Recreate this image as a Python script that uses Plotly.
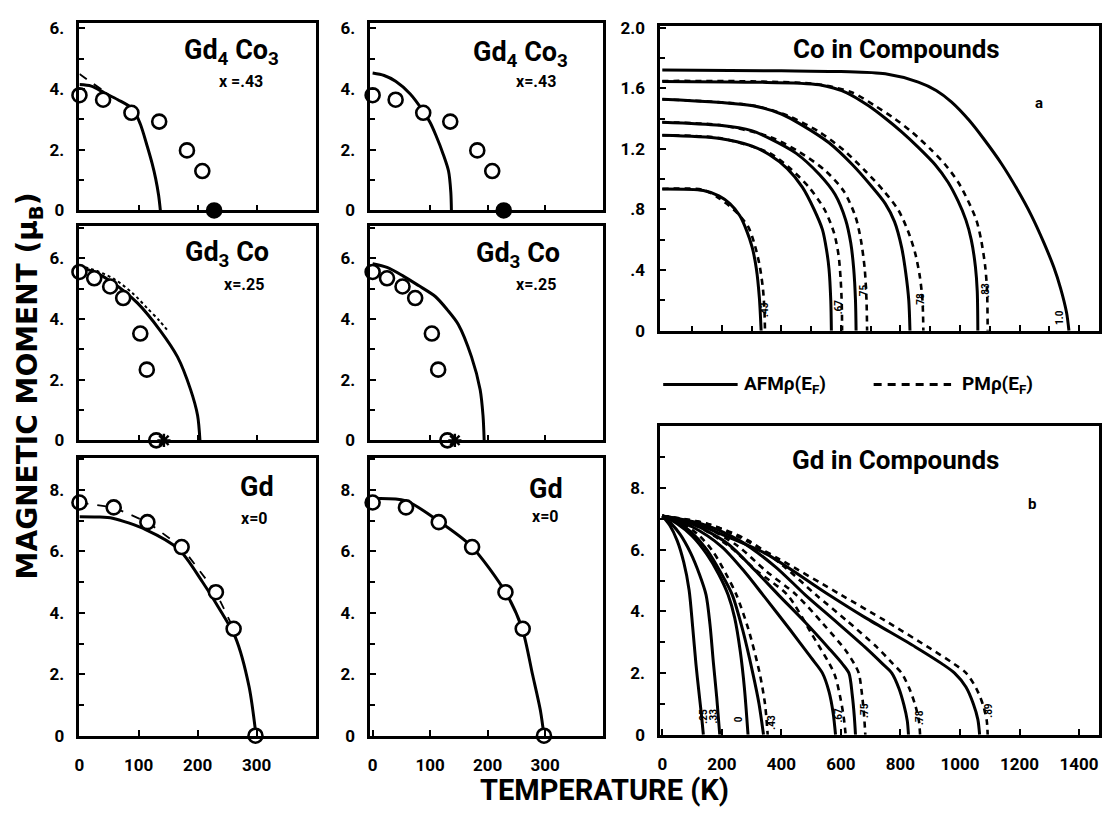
import plotly.graph_objects as go

W, H = 1102, 823

# ---------------- Gd4Co3 (x = .43) ----------------
gd4co3_exp_T = [0, 40, 88, 135, 182, 208]
gd4co3_exp_M = [3.8, 3.65, 3.22, 2.93, 1.98, 1.3]
gd4co3_tc_T = [228]
gd4co3_tc_M = [0]
gd4co3_fit1_T = [0, 20, 42, 65, 90, 103, 115, 123, 129, 134, 137]
gd4co3_fit1_M = [4.15, 4.1, 3.88, 3.65, 3.35, 2.85, 2.1, 1.55, 1.05, 0.5, 0]
gd4co3_fit1_alt_T = [0, 20, 40]
gd4co3_fit1_alt_M = [4.5, 4.22, 3.95]
gd4co3_fit2_T = [0, 20, 40, 65, 87, 100, 110, 123, 132, 136, 137]
gd4co3_fit2_M = [4.53, 4.45, 4.26, 3.85, 3.3, 2.9, 2.48, 1.84, 1.3, 0.6, 0]

# ---------------- Gd3Co (x = .25) ----------------
gd3co_exp_T = [0, 25, 52, 74, 103, 114, 130]
gd3co_exp_M = [5.55, 5.34, 5.07, 4.69, 3.52, 2.33, 0]
gd3co_tc_T = [143]
gd3co_tc_M = [0]
gd3co_fit1_T = [0, 25, 54, 98, 137, 166, 188, 200, 204]
gd3co_fit1_M = [5.71, 5.55, 5.23, 4.53, 3.61, 2.75, 1.68, 0.82, 0]
gd3co_fit1_alt_T = [0, 30, 60, 90, 115, 135, 150]
gd3co_fit1_alt_M = [5.76, 5.58, 5.3, 4.85, 4.35, 3.95, 3.6]
gd3co_fit2_T = [0, 25, 52, 80, 109, 130, 149, 172, 187, 192, 194]
gd3co_fit2_M = [5.82, 5.7, 5.43, 5.1, 4.74, 4.3, 3.82, 2.75, 1.67, 0.81, 0]

# ---------------- Gd (x = 0) ----------------
gd_exp_T = [0, 58, 115, 173, 231, 261, 298]
gd_exp_M = [7.59, 7.43, 6.95, 6.14, 4.67, 3.48, 0]
gd_fit1_T = [0, 30, 56, 112, 168, 208, 236, 264, 287, 299]
gd_fit1_M = [7.13, 7.12, 7.08, 6.71, 6.07, 5.01, 4.16, 3.2, 1.61, 0]
gd_fit2_T = [0, 57, 115, 172, 231, 260, 278, 292, 298]
gd_fit2_M = [7.72, 7.65, 6.98, 6.16, 4.67, 3.49, 2.0, 0.8, 0]

# ---------------- Co in compounds (AFM / PM density of states) ----------------
co_afm_T = [
    [0, 400, 600, 749, 860, 920, 971, 1030, 1082, 1140, 1193, 1240, 1282,
     1315, 1338, 1358, 1366],
    [0, 300, 527, 620, 693, 750, 804, 860, 916, 960, 993, 1020, 1038, 1052,
     1058, 1060],
    [0, 304, 400, 471, 560, 638, 700, 749, 780, 804, 818, 828, 832],
    [0, 193, 300, 360, 450, 527, 580, 616, 633, 643, 649, 651],
    [0, 193, 300, 360, 420, 471, 510, 538, 552, 560, 566, 568],
    [0, 138, 190, 227, 260, 282, 302, 316, 326, 332],
]
co_afm_M = [
    [1.72, 1.715, 1.71, 1.695, 1.64, 1.585, 1.51, 1.39, 1.26, 1.1, 0.93,
     0.76, 0.58, 0.42, 0.28, 0.12, 0],
    [1.645, 1.64, 1.623, 1.57, 1.484, 1.4, 1.312, 1.21, 1.097, 0.98, 0.858,
     0.73, 0.6, 0.42, 0.26, 0],
    [1.527, 1.484, 1.43, 1.355, 1.24, 1.097, 0.96, 0.839, 0.72, 0.55, 0.38,
     0.2, 0],
    [1.376, 1.355, 1.32, 1.269, 1.17, 1.032, 0.9, 0.731, 0.58, 0.409, 0.2, 0],
    [1.29, 1.269, 1.22, 1.161, 1.07, 0.946, 0.8, 0.667, 0.53, 0.409, 0.2, 0],
    [0.935, 0.925, 0.89, 0.839, 0.76, 0.667, 0.55, 0.409, 0.22, 0],
]
co_pm_T = [
    [0, 300, 527, 640, 715, 780, 838, 900, 950, 994, 1027, 1055, 1071,
     1085, 1091, 1093],
    [0, 304, 420, 527, 610, 682, 745, 793, 825, 849, 865, 874, 877],
    [0, 193, 360, 460, 549, 610, 649, 667, 680, 686, 688],
    [0, 193, 360, 430, 493, 545, 577, 592, 599, 603, 604],
    [0, 138, 193, 245, 288, 310, 327, 338, 343, 345],
]
co_pm_M = [
    [1.648, 1.645, 1.625, 1.57, 1.484, 1.4, 1.312, 1.2, 1.097, 0.98, 0.858,
     0.73, 0.6, 0.42, 0.26, 0],
    [1.527, 1.486, 1.42, 1.312, 1.19, 1.054, 0.92, 0.796, 0.66, 0.516,
     0.36, 0.2, 0],
    [1.376, 1.357, 1.28, 1.18, 1.054, 0.92, 0.753, 0.6, 0.409, 0.2, 0],
    [1.29, 1.271, 1.172, 1.07, 0.946, 0.8, 0.645, 0.5, 0.344, 0.17, 0],
    [0.935, 0.93, 0.871, 0.79, 0.688, 0.57, 0.43, 0.28, 0.14, 0],
]
co_tag_T = [343, 593, 677, 866, 1087, 1332]
co_tag_M = [0.14, 0.16, 0.26, 0.2, 0.27, 0.09]
co_tag_text = [".43", ".67", ".75", ".78", ".83", "1.0"]

# ---------------- Gd in compounds ----------------
gdc_afm_T = [
    [0, 25, 50, 72, 90, 102, 113, 124, 132, 138],
    [0, 30, 60, 95, 125, 147, 160, 172, 183, 193],
    [0, 50, 100, 150, 190, 221, 243, 262, 276, 288],
    [0, 50, 100, 150, 200, 235, 270, 304, 325, 340],
    [0, 100, 200, 280, 338, 430, 500, 538, 560, 574, 582],
    [0, 110, 220, 310, 390, 480, 560, 605, 627, 638, 645, 649],
    [0, 130, 260, 380, 480, 580, 680, 740, 771, 795, 812, 823, 827],
    [0, 100, 200, 349, 550, 682, 850, 940, 982, 1020, 1045, 1060, 1066],
]
gdc_afm_M = [
    [7.1, 6.8, 6.3, 5.6, 4.7, 3.5, 2.3, 1.3, 0.6, 0],
    [7.1, 6.85, 6.5, 5.9, 5.2, 4.54, 3.6, 2.3, 1.2, 0],
    [7.1, 6.85, 6.45, 5.85, 5.2, 4.54, 3.8, 2.7, 1.5, 0],
    [7.1, 6.9, 6.55, 6.0, 5.2, 4.54, 3.4, 2.0, 1.0, 0],
    [7.1, 6.75, 6.1, 5.25, 4.54, 3.4, 2.5, 2.0, 1.4, 0.7, 0],
    [7.1, 6.8, 6.2, 5.35, 4.54, 3.65, 2.8, 2.3, 2.0, 1.3, 0.6, 0],
    [7.1, 6.85, 6.3, 5.45, 4.54, 3.7, 2.85, 2.3, 2.0, 1.5, 0.95, 0.45, 0],
    [7.1, 6.9, 6.5, 5.87, 4.6, 3.8, 2.85, 2.3, 2.0, 1.55, 1.0, 0.5, 0],
]
gdc_pm_T = [
    [0, 60, 120, 170, 215, 249, 290, 327, 345, 354],
    [0, 110, 220, 320, 420, 500, 577, 596, 609, 616],
    [0, 130, 250, 350, 450, 540, 615, 645, 660, 671, 678, 682],
    [0, 150, 290, 410, 516, 620, 720, 775, 804, 830, 850, 862, 866],
    [0, 150, 250, 393, 600, 749, 900, 980, 1021, 1055, 1078, 1090, 1093],
]
gdc_pm_M = [
    [7.1, 6.9, 6.5, 5.95, 5.2, 4.54, 3.4, 2.0, 1.0, 0],
    [7.1, 6.8, 6.15, 5.3, 4.54, 3.3, 2.0, 1.3, 0.6, 0],
    [7.1, 6.8, 6.15, 5.3, 4.54, 3.6, 2.75, 2.3, 2.0, 1.3, 0.6, 0],
    [7.1, 6.85, 6.3, 5.45, 4.54, 3.7, 2.85, 2.3, 2.0, 1.5, 0.95, 0.45, 0],
    [7.1, 6.85, 6.45, 5.7, 4.54, 3.7, 2.8, 2.3, 2.0, 1.5, 0.95, 0.45, 0],
]
gdc_tag_T = [138, 171, 254, 366, 593, 677, 866, 1093]
gdc_tag_M = [0.6, 0.6, 0.5, 0.4, 0.65, 0.8, 0.55, 0.8]
gdc_tag_text = [".25", ".33", "0", ".43", ".67", ".75", ".78", ".89"]

# tick labels
small_y_vals = [0, 2, 4, 6]
small_y_text = ["0", "2.", "4.", "6."]
gd_y_vals = [0, 2, 4, 6, 8]
gd_y_text = ["0", "2.", "4.", "6.", "8."]
co_y_vals = [0, 0.4, 0.8, 1.2, 1.6, 2.0]
co_y_text = ["0", ".4", ".8", "1.2", "1.6", "2.0"]
t_small_vals = [0, 100, 200, 300]
t_small_text = ["0", "100", "200", "300"]
t_big_vals = [0, 200, 400, 600, 800, 1000, 1200, 1400]
t_big_text = ["0", "200", "400", "600", "800", "1000", "1200", "1400"]

FONT = "Roboto"
INK = "black"


def px(x):
    return x / W


def py(y):
    return 1 - y / H


fig = go.Figure()


def axis_pair(i, xdom, ydom, xrange, yrange, ytv, ytt, yminor, xtv, xtt,
              xlabels, xminor=None):
    suffix = "" if i == 1 else str(i)
    common = dict(showline=True, linecolor=INK, linewidth=2.6, mirror=True,
                  showgrid=False, zeroline=False, ticks="inside", ticklen=6,
                  tickwidth=2, tickcolor=INK,
                  tickfont=dict(family=FONT, size=17, color=INK, weight="bold"))
    xa = dict(common, domain=xdom, range=xrange, anchor="y" + suffix,
              tickmode="array", tickvals=xtv, ticktext=xtt,
              showticklabels=xlabels, ticklabelstandoff=12)
    if xminor:
        xa["minor"] = dict(tickvals=xminor, ticks="inside", ticklen=5,
                           tickwidth=2, tickcolor=INK)
    ya = dict(common, domain=ydom, range=yrange, anchor="x" + suffix,
              tickmode="array", tickvals=ytv, ticktext=ytt,
              ticklabelstandoff=9,
              minor=dict(tickvals=yminor, ticks="inside", ticklen=5,
                         tickwidth=2, tickcolor=INK))
    fig.update_layout(**{"xaxis" + suffix: xa, "yaxis" + suffix: ya})
    return "x" + suffix, "y" + suffix


left_x = [px(75), px(313)]
mid_x = [px(368), px(602)]
right_x = [px(660), 1.0]
row1 = [py(207), py(15)]
row2 = [py(442), py(223)]
row3 = [py(744), py(460)]

A1 = axis_pair(1, left_x, row1, [0, 400], [0, 6.19], small_y_vals, small_y_text,
               [1, 3, 5], t_small_vals[1:], t_small_text[1:], False)
A2 = axis_pair(2, left_x, row2, [0, 400], [0, 7.06], small_y_vals, small_y_text,
               [1, 3, 5, 7], t_small_vals[1:], t_small_text[1:], False)
A3 = axis_pair(3, left_x, row3, [0, 400], [0, 9.04], gd_y_vals, gd_y_text,
               [1, 3, 5, 7, 9], t_small_vals, t_small_text, True)
A4 = axis_pair(4, mid_x, row1, [-4, 400], [0, 6.19], small_y_vals, small_y_text,
               [1, 3, 5], t_small_vals[1:], t_small_text[1:], False)
A5 = axis_pair(5, mid_x, row2, [-4, 400], [0, 7.06], small_y_vals, small_y_text,
               [1, 3, 5, 7], t_small_vals[1:], t_small_text[1:], False)
A6 = axis_pair(6, mid_x, row3, [-4, 400], [0, 9.04], gd_y_vals, gd_y_text,
               [1, 3, 5, 7, 9], t_small_vals, t_small_text, True)
A7 = axis_pair(7, right_x, [py(330), py(18)], [-7, 1467], [0, 2.013], co_y_vals,
               co_y_text, [0.2, 0.6, 1.0, 1.4, 1.8], t_big_vals[1:],
               t_big_text[1:], False, xminor=[100, 300, 500, 700, 900, 1100, 1300])
A8 = axis_pair(8, right_x, [py(743), py(427)], [-7, 1467], [0, 10.03], gd_y_vals,
               gd_y_text, [1, 3, 5, 7, 9], t_big_vals, t_big_text, True)


def curve(ax, T, M, dash="solid", width=3.0, shape="spline"):
    fig.add_trace(go.Scatter(x=T, y=M, mode="lines", xaxis=ax[0], yaxis=ax[1],
                             line=dict(color=INK, width=width, dash=dash,
                                       shape=shape, smoothing=0.8),
                             showlegend=False, hoverinfo="skip"))


def circles(ax, T, M, fill="white", size=14):
    fig.add_trace(go.Scatter(x=T, y=M, mode="markers", xaxis=ax[0], yaxis=ax[1],
                             marker=dict(symbol="circle", size=size, color=fill,
                                         line=dict(color=INK, width=2.6)),
                             cliponaxis=False, showlegend=False,
                             hoverinfo="skip"))


def star(ax, T, M):
    fig.add_trace(go.Scatter(x=T, y=M, mode="markers", xaxis=ax[0], yaxis=ax[1],
                             marker=dict(symbol="asterisk-open", size=11,
                                         color=INK,
                                         line=dict(color=INK, width=2.4)),
                             cliponaxis=False, showlegend=False,
                             hoverinfo="skip"))


# Gd4Co3 panels
curve(A1, gd4co3_fit1_T, gd4co3_fit1_M)
curve(A1, gd4co3_fit1_alt_T, gd4co3_fit1_alt_M, dash="dash", width=2)
circles(A1, gd4co3_exp_T, gd4co3_exp_M)
circles(A1, gd4co3_tc_T, gd4co3_tc_M, fill=INK)
curve(A4, gd4co3_fit2_T, gd4co3_fit2_M)
circles(A4, gd4co3_exp_T, gd4co3_exp_M)
circles(A4, gd4co3_tc_T, gd4co3_tc_M, fill=INK)

# Gd3Co panels
curve(A2, gd3co_fit1_alt_T, gd3co_fit1_alt_M, dash="dot", width=2)
curve(A2, gd3co_fit1_T, gd3co_fit1_M)
circles(A2, gd3co_exp_T, gd3co_exp_M)
star(A2, gd3co_tc_T, gd3co_tc_M)
curve(A5, gd3co_fit2_T, gd3co_fit2_M)
circles(A5, gd3co_exp_T, gd3co_exp_M)
star(A5, gd3co_tc_T, gd3co_tc_M)

# Gd panels
curve(A3, gd_fit1_T, gd_fit1_M)
curve(A3, gd_exp_T[:6], gd_exp_M[:6], dash="dash", width=1.8, shape="linear")
circles(A3, gd_exp_T, gd_exp_M)
curve(A6, gd_fit2_T, gd_fit2_M)
circles(A6, gd_exp_T, gd_exp_M)

# Co in compounds
for T, M in zip(co_pm_T, co_pm_M):
    curve(A7, T, M, dash="6px,5px", width=2.6)
for T, M in zip(co_afm_T, co_afm_M):
    curve(A7, T, M, width=3.0)

# Gd in compounds
for T, M in zip(gdc_pm_T, gdc_pm_M):
    curve(A8, T, M, dash="6px,5px", width=2.6)
for T, M in zip(gdc_afm_T, gdc_afm_M):
    curve(A8, T, M, width=3.0)

annotations = []


def note(ax, x, y, text, size, angle=0, weight="bold"):
    annotations.append(dict(xref=ax[0], yref=ax[1], x=x, y=y, text=text,
                            showarrow=False, textangle=angle,
                            xanchor="center", yanchor="middle",
                            font=dict(family=FONT, size=size, color=INK,
                                      weight=weight)))


note(A1, 257, 5.23, "Gd<sub>4</sub> Co<sub>3</sub>", 27)
note(A1, 274, 4.26, "x =.43", 16)
note(A4, 258, 5.16, "Gd<sub>4</sub> Co<sub>3</sub>", 27)
note(A4, 284, 4.26, "x=.43", 16)
note(A2, 250, 6.13, "Gd<sub>3</sub> Co", 27)
note(A2, 279, 5.13, "x=.25", 16)
note(A5, 252, 6.1, "Gd<sub>3</sub> Co", 27)
note(A5, 284, 5.13, "x=.25", 16)
note(A3, 301, 8.09, "Gd", 27)
note(A3, 297, 7.07, "x=0", 16)
note(A6, 302, 8.03, "Gd", 27)
note(A6, 300, 7.13, "x=0", 16)
note(A7, 787, 1.858, "Co in Compounds", 26)
note(A7, 1267, 1.503, "a", 15)
note(A8, 783, 8.92, "Gd in Compounds", 26)
note(A8, 1243, 7.49, "b", 15)
for t, m, s in zip(co_tag_T, co_tag_M, co_tag_text):
    note(A7, t, m, s, 10, angle=-90)
for t, m, s in zip(gdc_tag_T, gdc_tag_M, gdc_tag_text):
    note(A8, t, m, s, 10, angle=-90)

# shared axis titles
annotations.append(dict(xref="paper", yref="paper", x=px(25), y=py(386),
                        xanchor="center", yanchor="middle",
                        text="MAGNETIC MOMENT (μ<sub>B</sub>)", textangle=-90,
                        showarrow=False,
                        font=dict(family="DejaVu Sans", size=28, color=INK,
                                  weight="bold")))
annotations.append(dict(xref="paper", yref="paper", x=px(604), y=py(799),
                        xanchor="center", yanchor="middle",
                        text="TEMPERATURE (K)", showarrow=False,
                        font=dict(family=FONT, size=29, color=INK, weight="bold")))

# key for the line styles
annotations.append(dict(xref="paper", yref="paper", x=px(742), y=py(385),
                        xanchor="left", yanchor="middle",
                        text="AFMρ(E<sub>F</sub>)", showarrow=False,
                        font=dict(family=FONT, size=19, color=INK, weight="bold")))
annotations.append(dict(xref="paper", yref="paper", x=px(962), y=py(385),
                        xanchor="left", yanchor="middle",
                        text="PMρ(E<sub>F</sub>)", showarrow=False,
                        font=dict(family=FONT, size=19, color=INK, weight="bold")))
shapes = [
    dict(type="line", xref="paper", yref="paper", x0=px(663), x1=px(738),
         y0=py(385), y1=py(385), line=dict(color=INK, width=3)),
    dict(type="line", xref="paper", yref="paper", x0=px(875), x1=px(953),
         y0=py(385), y1=py(385), line=dict(color=INK, width=3, dash="8px,6px")),
]

fig.update_layout(width=W, height=H, margin=dict(l=0, r=0, t=0, b=0),
                  paper_bgcolor="white", plot_bgcolor="white",
                  annotations=annotations, shapes=shapes, showlegend=False)

fig.write_html("out.html")
